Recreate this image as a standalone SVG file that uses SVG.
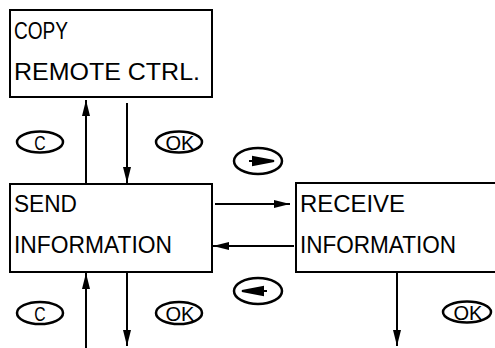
<svg xmlns="http://www.w3.org/2000/svg" width="495" height="348" viewBox="0 0 495 348">
<style>
.box{fill:#fff;stroke:#000;stroke-width:2}
.t{font-family:"Liberation Sans",Arial,sans-serif;font-size:23px;fill:#000}
.k{font-family:"Liberation Sans",Arial,sans-serif;font-size:21px;fill:#000;text-anchor:middle}
.btn{fill:#fff;stroke:#000;stroke-width:2.5}
.ln{stroke:#000;stroke-width:2;fill:none}
</style>
<defs>
<marker id="ah" viewBox="0 0 16 8" refX="16" refY="4" markerWidth="16" markerHeight="8" markerUnits="userSpaceOnUse" orient="auto">
<path d="M0,0 L16,4 L0,8 z" fill="#000"/>
</marker>
</defs>
<g id="copy">
<rect class="box" x="10" y="10" width="202" height="87"/>
<text class="t" transform="translate(14,39) scale(0.83,1)" x="0" y="0">COPY</text>
<text class="t" x="14" y="80" textLength="186" lengthAdjust="spacingAndGlyphs">REMOTE CTRL.</text>
</g>
<g id="send">
<rect class="box" x="10" y="184" width="202" height="88"/>
<text class="t" x="14" y="212" textLength="63" lengthAdjust="spacingAndGlyphs">SEND</text>
<text class="t" x="14" y="253" textLength="158" lengthAdjust="spacingAndGlyphs">INFORMATION</text>
</g>
<g id="receive">
<rect class="box" x="296" y="183" width="210" height="89"/>
<text class="t" x="300" y="212" textLength="105" lengthAdjust="spacingAndGlyphs">RECEIVE</text>
<text class="t" x="300" y="253" textLength="156" lengthAdjust="spacingAndGlyphs">INFORMATION</text>
</g>
<g id="btn-c1"><ellipse class="btn" cx="40" cy="142" rx="23" ry="10.5"/><text class="k" transform="translate(40,149.5) scale(0.75,1)" x="0" y="0">C</text></g>
<g id="btn-ok1"><ellipse class="btn" cx="179" cy="142" rx="23" ry="10.5"/><text class="k" x="180" y="149.5" textLength="29" lengthAdjust="spacingAndGlyphs">OK</text></g>
<g id="btn-right"><ellipse class="btn" cx="258" cy="161" rx="24" ry="13"/><path d="M249,161 L253,161 M253,157 L274,161 L253,165 z" fill="#000" stroke="#000" stroke-width="2"/></g>
<g id="btn-left"><ellipse class="btn" cx="258" cy="291" rx="24" ry="13"/><path d="M267,291 L263,291 M263,287 L242,291 L263,295 z" fill="#000" stroke="#000" stroke-width="2"/></g>
<g id="btn-c2"><ellipse class="btn" cx="40" cy="313" rx="23" ry="11"/><text class="k" transform="translate(40,320.5) scale(0.75,1)" x="0" y="0">C</text></g>
<g id="btn-ok2"><ellipse class="btn" cx="179" cy="313" rx="23" ry="11"/><text class="k" x="180" y="320.5" textLength="29" lengthAdjust="spacingAndGlyphs">OK</text></g>
<g id="btn-ok3"><ellipse class="btn" cx="467" cy="312" rx="24" ry="10.5"/><text class="k" x="468" y="319.5" textLength="29" lengthAdjust="spacingAndGlyphs">OK</text></g>
<g id="connectors">
<line class="ln" x1="86" y1="183" x2="86" y2="100" marker-end="url(#ah)"/>
<line class="ln" x1="127" y1="103" x2="127" y2="183" marker-end="url(#ah)"/>
<line class="ln" x1="215" y1="204" x2="290" y2="204" marker-end="url(#ah)"/>
<line class="ln" x1="294" y1="246" x2="213" y2="246" marker-end="url(#ah)"/>
<line class="ln" x1="86" y1="348" x2="86" y2="273" marker-end="url(#ah)"/>
<line class="ln" x1="127" y1="273" x2="127" y2="346" marker-end="url(#ah)"/>
<line class="ln" x1="397" y1="273" x2="397" y2="346" marker-end="url(#ah)"/>
</g>
</svg>
